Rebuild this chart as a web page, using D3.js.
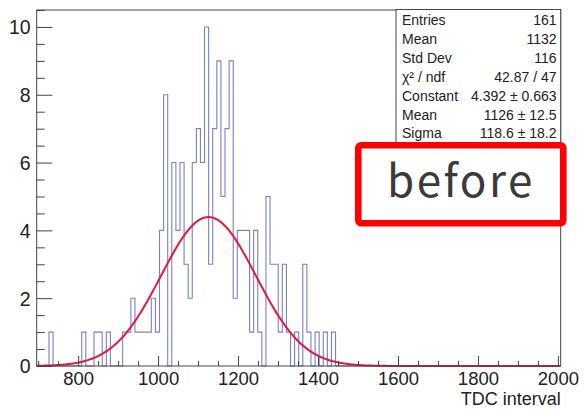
<!DOCTYPE html>
<html><head><meta charset="utf-8">
<script src="https://cdn.jsdelivr.net/npm/d3@7"></script>
<style>body{margin:0;background:#fff} svg{display:block}</style>
</head><body><svg id="c" width="584" height="409"></svg>
<script>
// ---- data ----
const binStart = 696.32;      // low edge of the first drawn bin
const binWidth = 10.24;       // bin width (TDC counts)
const axisEnd = 2007.04;      // high edge of the last drawn bin
const counts = [
  0,0,0,1,0,0,0,0,0,0,
  0,1,0,0,1,1,0,1,0,0,
  0,1,1,2,1,1,1,1,2,1,
  4,8,0,6,4,6,3,2,6,7,
  6,10,3,7,9,5,7,9,2,4,
  4,4,1,4,1,0,5,3,3,1,
  3,1,0,1,0,3,1,0,1,0,
  1,0,1,0,0,0,0,0,0,0
];
const xMajorTicks = [800, 1000, 1200, 1400, 1600, 1800, 2000];
const yMajorTicks = [0, 2, 4, 6, 8, 10];
const fitConstant = 4.392, fitMean = 1126, fitSigma = 118.6;
const statLabels = ["Entries", "Mean", "Std Dev", "\u03C7\u00B2 / ndf", "Constant", "Mean", "Sigma"];
const statValues = ["161", "1132", "116", "42.87 / 47", "4.392 \u00B1 0.663", "1126 \u00B1 12.5", "118.6 \u00B1 18.2"];
const xTitle = "TDC interval";
const stampText = "before";

// ---- layout ----
const L = 36.7, R = 560.7, T = 10, B = 366;
const svg = d3.select("#c");
const x = d3.scaleLinear().domain([binStart, axisEnd]).range([L, R]);
const y = d3.scaleLinear().domain([0, 10.5]).range([B, T]);
const axisColor = "#444";
const font = "'Liberation Sans', Arial, Helvetica, sans-serif";
const axisFont = 18.5;

// histogram outline
const pts = [[binStart, 0]];
counts.forEach((c, i) => {
  const lo = binStart + i * binWidth, hi = lo + binWidth;
  pts.push([lo, c], [hi, c]);
});
pts.push([binStart + counts.length * binWidth, 0], [axisEnd, 0]);
svg.append("path")
  .attr("d", d3.line().x(d => x(d[0])).y(d => y(d[1]))(pts))
  .attr("fill", "none").attr("stroke", "#7b80c8").attr("stroke-width", 1.1);

// gaussian fit curve
const fx = d3.range(binStart, axisEnd + 0.1, 2);
svg.append("path")
  .attr("d", d3.line().x(d => x(d)).y(d => y(fitConstant * Math.exp(-0.5 * Math.pow((d - fitMean) / fitSigma, 2))))(fx))
  .attr("fill", "none").attr("stroke", "#e8173a").attr("stroke-width", 2);

// x axis
const xMinor = d3.range(700, 2001, 50).filter(v => !xMajorTicks.includes(v));
const gx = svg.append("g").attr("transform", `translate(0,${B})`);
gx.call(d3.axisBottom(x).tickValues(xMinor).tickSize(-5).tickFormat(""));
gx.selectAll(".tick line").attr("stroke", axisColor);
const gx2 = svg.append("g").attr("transform", `translate(0,${B})`);
gx2.call(d3.axisBottom(x).tickValues(xMajorTicks).tickSize(-10).tickPadding(6).tickFormat(d3.format("d")));
gx2.selectAll(".tick line").attr("stroke", axisColor);
gx2.selectAll(".tick text").attr("font-family", font).attr("font-size", axisFont).attr("fill", "#222")
  .attr("y", 18.5).attr("dy", 0);
svg.selectAll(".domain").remove();

// y axis
const yMinor = d3.range(0, 10.51, 0.5).filter(v => !yMajorTicks.includes(v));
const gy = svg.append("g").attr("transform", `translate(${L},0)`);
gy.call(d3.axisLeft(y).tickValues(yMinor).tickSize(-8).tickFormat(""));
gy.selectAll(".tick line").attr("stroke", axisColor);
const gy2 = svg.append("g").attr("transform", `translate(${L},0)`);
gy2.call(d3.axisLeft(y).tickValues(yMajorTicks).tickSize(-15.7).tickPadding(6).tickFormat(d3.format("d")));
gy2.selectAll(".tick line").attr("stroke", axisColor);
gy2.selectAll(".tick text").attr("font-family", font).attr("font-size", 19.5).attr("fill", "#222")
  .attr("x", -6).attr("dy", "0.35em");
svg.selectAll(".domain").remove();

// frame
svg.append("rect").attr("x", L).attr("y", T).attr("width", R - L).attr("height", B - T)
  .attr("fill", "none").attr("stroke", axisColor).attr("stroke-width", 1);

// x title
svg.append("text").attr("x", R).attr("y", 404.5).attr("text-anchor", "end")
  .attr("font-family", font).attr("font-size", 18).attr("fill", "#222").text(xTitle);

// stats box
const sb = svg.append("g");
sb.append("rect").attr("x", 396).attr("y", 9.5).attr("width", R - 396).attr("height", 137)
  .attr("fill", "#fff").attr("stroke", axisColor).attr("stroke-width", 1);
statLabels.forEach((s, i) => {
  const yy = 25 + i * 18.9;
  sb.append("text").attr("x", 402).attr("y", yy).attr("font-family", font).attr("font-size", 14)
    .attr("fill", "#222").text(s);
  sb.append("text").attr("x", 556.5).attr("y", yy).attr("text-anchor", "end").attr("font-family", font)
    .attr("font-size", 14).attr("fill", "#222").text(statValues[i]);
});

// red stamp box
svg.append("rect").attr("x", 358.3).attr("y", 145.3).attr("width", 205).attr("height", 78)
  .attr("rx", 3).attr("fill", "#fff").attr("stroke", "#f00").attr("stroke-width", 6.6);
svg.append("text").attr("x", 461).attr("y", 197).attr("text-anchor", "middle")
  .attr("font-family", "'Noto Sans CJK JP', 'Noto Sans', sans-serif").attr("font-size", 44)
  .attr("letter-spacing", 2.5).attr("fill", "#3a3a3a").text(stampText);
</script></body></html>
